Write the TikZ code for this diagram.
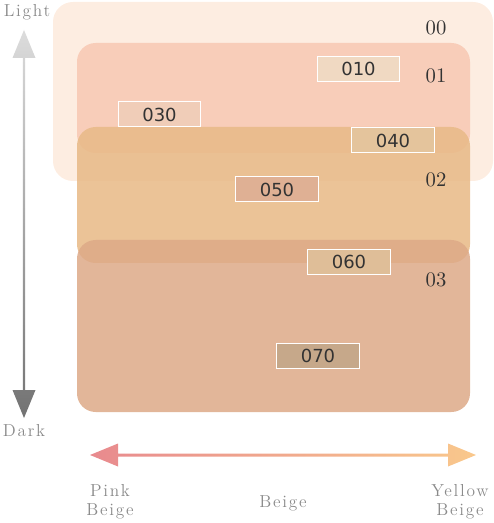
\documentclass[tikz,border=0pt]{standalone}
\usepackage{fontspec}
\newfontfamily\swatchfont{DejaVu Sans}
\newfontfamily\captionfont{Latin Modern Roman}[LetterSpace=10]
\newfontfamily\tonefont{lmroman10-regular}[Extension=.otf]
\usetikzlibrary{calc}

\definecolor{layerA}{HTML}{FDEDE1}
\definecolor{layerB}{HTML}{F8CDB9}
\definecolor{layerC}{HTML}{E8BA88}
\definecolor{layerD}{HTML}{DDA987}
\definecolor{textgray}{HTML}{8A8A8A}
\definecolor{numgray}{HTML}{333333}
\definecolor{lightend}{HTML}{DCDCDC}
\definecolor{darkend}{HTML}{727272}
\definecolor{pinkend}{HTML}{E88A8E}
\definecolor{yellowend}{HTML}{F9C88C}

\tikzset{
  layer/.style={rectangle, rounded corners=14pt, inner sep=0pt, outer sep=0pt, minimum width=294.75pt},
  swatch/.style={rectangle, draw=white, line width=0.75pt, inner sep=0pt, minimum width=62pt, minimum height=18.75pt, text=numgray, font=\swatchfont\fontsize{13.5}{14}\selectfont},
  tone/.style={text=numgray, font=\tonefont\fontsize{15.5}{16}\selectfont},
  caption/.style={text=textgray, align=center, font=\captionfont\fontsize{13}{14}\selectfont}
}

\begin{document}
\begin{tikzpicture}[x=0.75pt, y=-0.75pt]
\useasboundingbox (0,0) rectangle (493,523);

\draw (273,91.5) node (L00) [layer, fill=layerA, minimum width=330pt, minimum height=134.25pt, rounded corners=15pt] {};
\draw (273.5,98) node (L01) [layer, fill=layerB, minimum height=82.5pt] {};
\draw (273.5,195) node (L02) [layer, fill=layerC, fill opacity=0.87, minimum height=102pt] {};
\draw (273.5,326) node (L03) [layer, fill=layerD, fill opacity=0.85, minimum height=129pt] {};

\draw (436,27.5) node (t00) [tone] {00};
\draw (436,76) node (t01) [tone] {01};
\draw (436,180) node (t02) [tone] {02};
\draw (436,280) node (t03) [tone] {03};

\draw (358.5,69) node (s010) [swatch, fill={rgb,255:red,240;green,217;blue,194}] {010};
\draw (159.5,114.5) node (s030) [swatch, fill={rgb,255:red,240;green,205;blue,184}] {030};
\draw (393,140.5) node (s040) [swatch, fill={rgb,255:red,228;green,196;blue,156}] {040};
\draw (277,189.5) node (s050) [swatch, fill={rgb,255:red,223;green,176;blue,148}] {050};
\draw (349,262) node (s060) [swatch, fill={rgb,255:red,223;green,190;blue,152}] {060};
\draw (318,355.5) node (s070) [swatch, fill={rgb,255:red,198;green,168;blue,138}] {070};

% light / dark
\coordinate (up) at (24,30);
\coordinate (down) at (24,418);
\shade [top color=lightend, bottom color=darkend]
  (up) -- +(11.5,28) -- +(1.2,28) -- ($(down)+(1.2,-28)$) -- ($(down)+(11.5,-28)$) -- (down)
  -- ($(down)+(-11.5,-28)$) -- ($(down)+(-1.2,-28)$) -- ($(up)+(-1.2,28)$) -- ($(up)+(-11.5,28)$) -- cycle;
\draw (27,12) node (light) [caption] {Light};
\draw (24,431) node (dark) [caption] {Dark};

% pink / yellow
\coordinate (pink) at (90,455);
\coordinate (yellow) at (476,455);
\shade [left color=pinkend, right color=yellowend]
  (pink) -- +(28,-11.5) -- +(28,-1.5) -- ($(yellow)+(-28,-1.5)$) -- ($(yellow)+(-28,-11.5)$) -- (yellow)
  -- ($(yellow)+(-28,11.5)$) -- ($(yellow)+(-28,1.5)$) -- ($(pink)+(28,1.5)$) -- ($(pink)+(28,11.5)$) -- cycle;
\draw (110,502) node (pinkbeige) [caption] {Pink\\Beige};
\draw (283,503) node (beige) [caption] {Beige};
\draw (460,502) node (yellowbeige) [caption] {Yellow\\Beige};

\end{tikzpicture}
\end{document}
